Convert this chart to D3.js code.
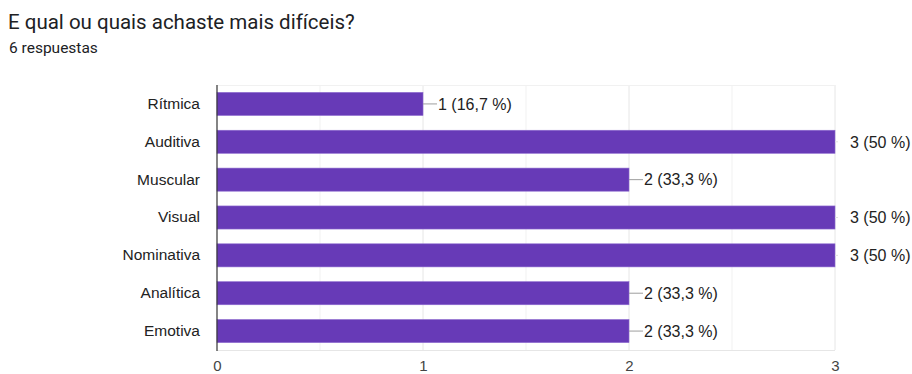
<!DOCTYPE html>
<html>
<head>
<meta charset="utf-8">
<script src="https://cdn.jsdelivr.net/npm/d3@7"></script>
<style>
  body { margin: 0; background: #fff; }
  svg { display: block; }
</style>
</head>
<body>
<div id="container"></div>
<script>
/* DATA */
const categories = ["Rítmica", "Auditiva", "Muscular", "Visual", "Nominativa", "Analítica", "Emotiva"];
const counts = [1, 3, 2, 3, 3, 2, 2];
const percents = ["16,7", "50", "33,3", "50", "50", "33,3", "33,3"];
const xTicks = [0, 1, 2, 3];
const gridValues = [0.5, 1, 1.5, 2, 2.5, 3];

/* CONSTANTS */
const width = 912, height = 374;
const margin = { top: 85, right: 77, bottom: 24, left: 217 };
const barColor = "#673ab7";
const labelFont = "'Liberation Sans', Arial, sans-serif";

const data = categories.map((c, i) => ({ cat: c, n: counts[i], pct: percents[i] }));

const svg = d3.select("#container")
  .append("svg")
  .attr("width", width)
  .attr("height", height);

// TITLE
svg.append("text")
  .attr("x", 8).attr("y", 29)
  .attr("font-family", "Roboto, sans-serif")
  .attr("font-size", 20.5)
  .attr("fill", "#202124")
  .text("E qual ou quais achaste mais difíceis?");

svg.append("text")
  .attr("x", 9).attr("y", 53)
  .attr("font-family", "Roboto, sans-serif")
  .attr("font-size", 15.5)
  .attr("fill", "#202124")
  .text("6 respuestas");

// SCALES
const xScale = d3.scaleLinear()
  .domain([0, 3])
  .range([margin.left, width - margin.right]);

const yScale = d3.scaleBand()
  .domain(categories)
  .range([margin.top, height - margin.bottom])
  .paddingInner(0.39)
  .paddingOuter(0.195);

const plotBottom = height - margin.bottom;

// GRIDLINES
svg.append("g")
  .selectAll("line")
  .data(gridValues)
  .join("line")
  .attr("x1", d => xScale(d)).attr("x2", d => xScale(d))
  .attr("y1", margin.top).attr("y2", plotBottom)
  .attr("stroke", d => Number.isInteger(d) ? "#e6e6e6" : "#f1f1f1")
  .attr("stroke-width", 1);

svg.append("line")
  .attr("x1", margin.left).attr("x2", xScale(3))
  .attr("y1", margin.top + 0.5).attr("y2", margin.top + 0.5)
  .attr("stroke", "#f1f1f1");

svg.append("line")
  .attr("x1", margin.left).attr("x2", xScale(3))
  .attr("y1", plotBottom + 0.5).attr("y2", plotBottom + 0.5)
  .attr("stroke", "#e6e6e6");

// BARS
svg.append("g")
  .selectAll("rect")
  .data(data)
  .join("rect")
  .attr("x", xScale(0))
  .attr("y", d => yScale(d.cat))
  .attr("width", d => xScale(d.n) - xScale(0))
  .attr("height", yScale.bandwidth())
  .attr("fill", barColor)
  .attr("stroke", "#8e6bd0")
  .attr("stroke-width", 0.6);

// VALUE LABELS WITH LEADER LINES
const lab = svg.append("g");
lab.selectAll("line")
  .data(data)
  .join("line")
  .attr("x1", d => xScale(d.n))
  .attr("x2", d => d.n === 3 ? xScale(d.n) + 3 : xScale(d.n) + 14)
  .attr("y1", d => yScale(d.cat) + yScale.bandwidth() / 2)
  .attr("y2", d => yScale(d.cat) + yScale.bandwidth() / 2)
  .attr("stroke", d => d.n === 3 ? "#e0e0e0" : "#9e9e9e")
  .attr("stroke-width", 1);

lab.selectAll("text")
  .data(data)
  .join("text")
  .attr("x", d => xScale(d.n) + 15)
  .attr("y", d => yScale(d.cat) + yScale.bandwidth() / 2)
  .attr("dy", "0.36em")
  .attr("font-family", labelFont)
  .attr("font-size", 16)
  .attr("fill", "#222")
  .text(d => `${d.n} (${d.pct} %)`);

// AXES
const yAxis = d3.axisLeft(yScale).tickSize(0).tickPadding(17);
const yG = svg.append("g")
  .attr("transform", `translate(${margin.left},0)`)
  .call(yAxis);
yG.select(".domain").remove();
yG.selectAll("text")
  .attr("font-family", labelFont)
  .attr("font-size", 15.5)
  .attr("fill", "#222");

svg.append("line")
  .attr("x1", margin.left).attr("x2", margin.left)
  .attr("y1", margin.top).attr("y2", plotBottom + 1)
  .attr("stroke", "#333")
  .attr("stroke-width", 1.2);

const xAxis = d3.axisBottom(xScale).tickValues(xTicks).tickSize(0).tickPadding(10).tickFormat(d3.format("d"));
const xG = svg.append("g")
  .attr("transform", `translate(0,${plotBottom})`)
  .call(xAxis);
xG.select(".domain").remove();
xG.selectAll("text")
  .attr("font-family", labelFont)
  .attr("font-size", 15)
  .attr("fill", "#444");
</script>
</body>
</html>
